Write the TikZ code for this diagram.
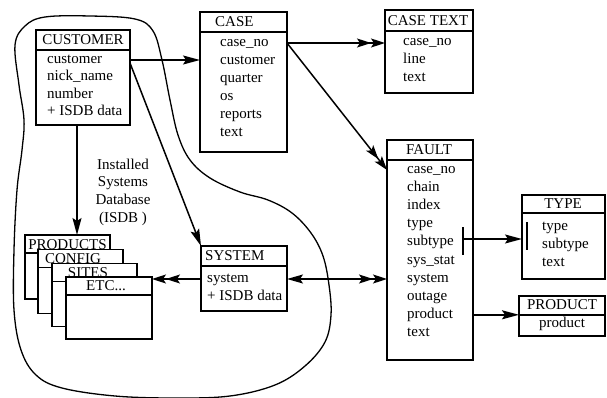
\documentclass[tikz,border=0pt]{standalone}
\usepackage{fontspec}
\setmainfont{Liberation Serif}
\usetikzlibrary{arrows.meta,calc}
\begin{document}
\begin{tikzpicture}[x=1pt,y=-1pt,
  ent/.style={draw,line width=1.2pt,anchor=north west,inner sep=0pt,outer sep=0pt,fill=white},
  hd/.style={inner sep=0pt,font=\fontsize{15}{18}\selectfont},
  shd/.style={hd,anchor=base,text depth=0pt},
  fld/.style={anchor=west,inner sep=0pt,text height=10pt,text depth=3pt,font=\fontsize{15}{18}\selectfont},
  sepl/.style={line width=1.2pt},
  arr/.style={line width=1.5pt},
  a1/.style={-{Stealth[length=17pt,width=9pt,inset=3pt]}},
  a2/.style={-{Stealth[length=14pt,width=9pt,inset=3pt]Stealth[length=14pt,width=9pt,inset=3pt]}},
  a12/.style={{Stealth[length=16pt,width=9pt,inset=3pt]}-{Stealth[length=14pt,width=9pt,inset=3pt]Stealth[length=14pt,width=9pt,inset=3pt]}},
]
\useasboundingbox (0,0) rectangle (607,398);

% ISDB outline
\draw[line width=1.3pt] plot[smooth cycle,tension=0.6] coordinates {
 (15,45) (25,26) (45,17) (90,16) (135,19) (153,31) (162,60) (170,100)
 (178,135) (190,160) (210,178) (240,192) (268,200) (292,213) (311,233)
 (323,256) (329,285) (331,315) (325,342) (305,366) (275,385) (230,396)
 (175,398) (115,396) (62,388) (36,375) (21,350) (14,310) (14,250)
 (17,190) (22,150) (24,120) (19,85)};

\node[font=\fontsize{15}{17.7}\selectfont,align=center,inner sep=0pt] (isdb) at (123,192)
 {Installed\\Systems\\Database\\(ISDB )};

% CUSTOMER
\node[ent,minimum width=94pt,minimum height=95pt] (cust) at (36,30) {};
\draw[sepl] ($(cust.north west)+(0,20)$) -- ($(cust.north east)+(0,20)$);
\node[hd] (custh) at (83,40) {CUSTOMER};
\node[fld] (cu1) at (47,60) {customer};
\node[fld] (cu2) at (47,77.5) {nick\_name};
\node[fld] (cu3) at (47,95) {number};
\node[fld] (cu4) at (47,112.5) {+ ISDB data};

% CASE
\node[ent,minimum width=87pt,minimum height=140pt] (case) at (200,12) {};
\draw[sepl] ($(case.north west)+(0,20)$) -- ($(case.north east)+(0,20)$);
\node[hd,anchor=west] (caseh) at (215,22) {CASE};
\node[fld] (ca1) at (220,43) {case\_no};
\node[fld] (ca2) at (220,61) {customer};
\node[fld] (ca3) at (220,79) {quarter};
\node[fld] (ca4) at (220,97) {os};
\node[fld] (ca5) at (220,115) {reports};
\node[fld] (ca6) at (220,133) {text};

% CASE TEXT
\node[ent,minimum width=88pt,minimum height=83pt] (ctext) at (385,10) {};
\draw[sepl] ($(ctext.north west)+(0,21)$) -- ($(ctext.north east)+(0,21)$);
\node[hd] (ctexth) at (428,21) {CASE TEXT};
\node[fld] (ct1) at (403,42) {case\_no};
\node[fld] (ct2) at (403,60) {line};
\node[fld] (ct3) at (403,78) {text};

% FAULT
\node[ent,minimum width=86pt,minimum height=220pt] (fault) at (387,140) {};
\draw[sepl] ($(fault.north west)+(0,20)$) -- ($(fault.north east)+(0,20)$);
\node[hd] (faulth) at (429,150) {FAULT};
\node[fld] (f1) at (407,170) {case\_no};
\node[fld] (f2) at (407,188.1) {chain};
\node[fld] (f3) at (407,206.2) {index};
\node[fld] (f4) at (407,224.3) {type};
\node[fld] (f5) at (407,242.4) {subtype};
\node[fld] (f6) at (407,260.5) {sys\_stat};
\node[fld] (f7) at (407,278.6) {system};
\node[fld] (f8) at (407,296.7) {outage};
\node[fld] (f9) at (407,314.8) {product};
\node[fld] (f10) at (407,332.9) {text};
\draw[arr] (463,227) -- (463,255);

% TYPE
\node[ent,minimum width=83pt,minimum height=84pt] (type) at (522,195) {};
\draw[sepl] ($(type.north west)+(0,18)$) -- ($(type.north east)+(0,18)$);
\node[hd] (typeh) at (563,204) {TYPE};
\node[fld] (t1) at (542,227) {type};
\node[fld] (t2) at (542,245) {subtype};
\node[fld] (t3) at (542,263) {text};
\draw[arr] (527,222) -- (527,250);

% PRODUCT
\node[ent,minimum width=86pt,minimum height=40pt] (prod) at (519,296) {};
\draw[sepl] ($(prod.north west)+(0,19)$) -- ($(prod.north east)+(0,19)$);
\node[hd] (prodh) at (562,305) {PRODUCT};
\node[fld,anchor=center] (p1) at (562,324) {product};

% SYSTEM
\node[ent,minimum width=86pt,minimum height=65pt] (sys) at (201,246) {};
\draw[sepl] ($(sys.north west)+(0,20)$) -- ($(sys.north east)+(0,20)$);
\node[hd,anchor=west] (sysh) at (205,256) {SYSTEM};
\node[fld] (s1) at (207,279) {system};
\node[fld] (s2) at (207,297) {+ ISDB data};

% stacked ISDB tables
\node[ent,minimum width=85pt,minimum height=64pt] (prods) at (25,235) {};
\draw[sepl] ($(prods.north west)+(0,18)$) -- ($(prods.north east)+(0,18)$);
\node[shd] (prodsh) at (67.5,249.5) {PRODUCTS};
\node[ent,minimum width=85pt,minimum height=64pt] (config) at (38,249.5) {};
\draw[sepl] ($(config.north west)+(0,18)$) -- ($(config.north east)+(0,18)$);
\node[shd] (configh) at (73,263.5) {CONFIG};
\node[ent,minimum width=85pt,minimum height=63pt] (sites) at (52,263.5) {};
\draw[sepl] ($(sites.north west)+(0,18)$) -- ($(sites.north east)+(0,18)$);
\node[shd] (sitesh) at (88,277) {SITES};
\node[ent,minimum width=86pt,minimum height=62pt] (etc) at (66,277) {};
\draw[sepl] ($(etc.north west)+(0,18)$) -- ($(etc.north east)+(0,18)$);
\node[shd] (etch) at (106,290) {ETC...};

% connectors
\draw[arr,a1] (cust.east |- cu1) -- (case.west |- cu1);
\draw[arr,a1] ($(cust.east |- cu1)+(0,3)$) -- (sys.north west);
\draw[arr,a1] ($(cust.south west)+(41,0)$) -- ($(prods.north west)+(52,0)$);
\draw[arr,a2] (case.east |- ca1) -- (ctext.west |- ca1);
\draw[arr,a2] (case.east |- ca1) -- (fault.west |- f1);
\draw[arr,a2] (sys.west |- s1) -- (etc.east |- s1);
\draw[arr,a12] (sys.east |- s1) -- (fault.west |- s1);
\coordinate (tbar) at (463,239);
\draw[arr,a1] (tbar) -- (type.west |- tbar);
\draw[arr,a1] (fault.east |- f9) -- (prod.west |- f9);
\end{tikzpicture}
\end{document}
